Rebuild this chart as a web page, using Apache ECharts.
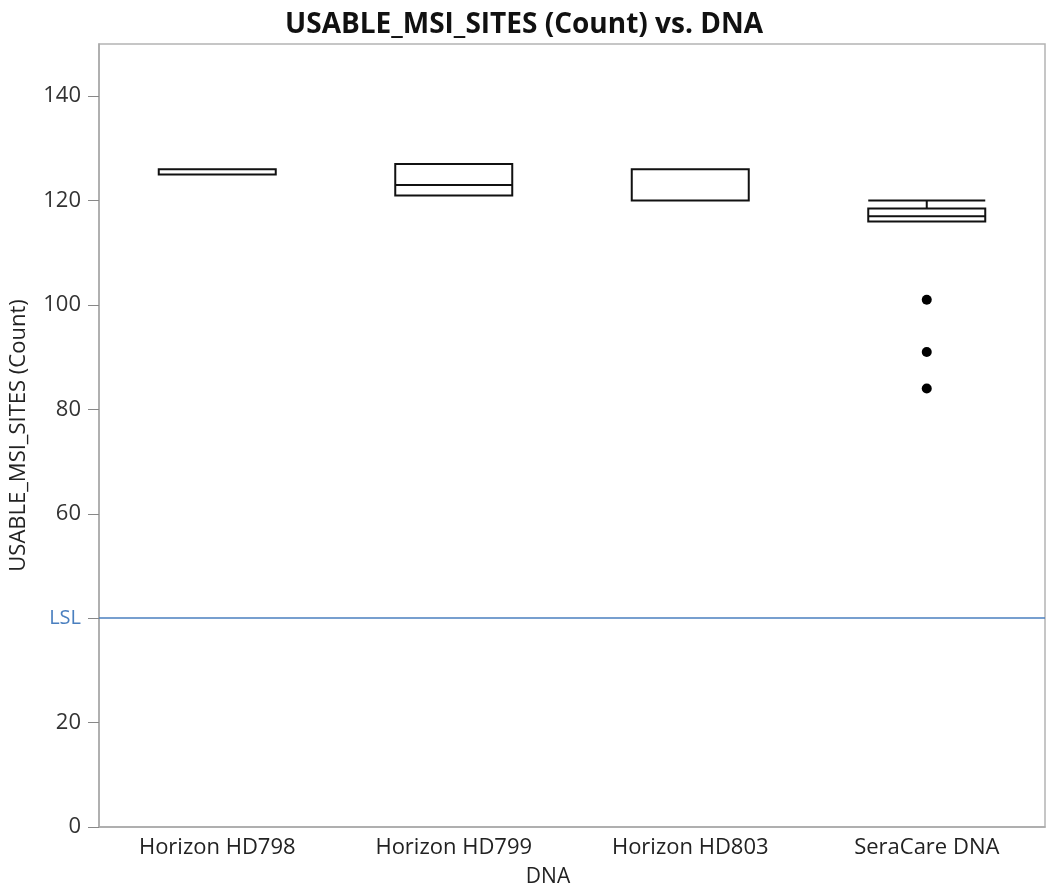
<!DOCTYPE html>
<html>
<head>
<meta charset="utf-8">
<title>USABLE_MSI_SITES (Count) vs. DNA</title>
<script src="https://cdn.jsdelivr.net/npm/echarts@6/dist/echarts.min.js"></script>
<style>
  html, body { margin: 0; padding: 0; background: #fff; }
  #chart { width: 1048px; height: 893px; }
</style>
</head>
<body>
<div id="chart"></div>
<script>
// DNA sample groups on the x axis
const categories = ['Horizon HD798', 'Horizon HD799', 'Horizon HD803', 'SeraCare DNA'];
// Box statistics per group: [lower whisker, Q1, median, Q3, upper whisker]
const boxStats = [
  [125, 125, 126, 126, 126],
  [121, 121, 123, 127, 127],
  [120, 120, 120, 126, 126],
  [116, 116, 117, 118.5, 120]
];
// Points outside the whiskers: [category index, value]
const outliers = [
  [3, 101],
  [3, 91],
  [3, 84]
];
// Lower specification limit
const lslValue = 40;
const lslLabel = 'LSL';
// Y axis tick values
const yTicks = [0, 20, 40, 60, 80, 100, 120, 140];

const fontFamily = '"Open Sans", "Noto Sans", sans-serif';
const lslColor = '#4a7fbf';

const chart = echarts.init(document.getElementById('chart'), null, { renderer: 'canvas' });

chart.setOption({
  animation: false,
  backgroundColor: '#ffffff',
  title: {
    text: 'USABLE_MSI_SITES (Count) vs. DNA',
    left: 'center',
    top: 6,
    padding: [5, 28, 5, 0],
    textStyle: {
      fontFamily: fontFamily,
      fontWeight: 'bold',
      fontSize: 28,
      color: '#111'
    }
  },
  grid: {
    left: 99,
    right: 3,
    top: 44,
    bottom: 60,
    show: true,
    borderColor: '#b4b4b4',
    borderWidth: 1.5,
    containLabel: false
  },
  xAxis: {
    type: 'category',
    data: categories,
    boundaryGap: true,
    name: 'DNA',
    nameLocation: 'middle',
    nameGap: 40,
    nameTextStyle: {
      fontFamily: fontFamily,
      fontSize: 21,
      color: '#222',
      padding: [0, 48, 0, 0]
    },
    axisLine: { show: true, lineStyle: { color: '#a8a8a8', width: 1.5 } },
    axisTick: { show: false },
    axisLabel: {
      fontFamily: fontFamily,
      fontSize: 22,
      color: '#222',
      margin: 10
    },
    splitLine: { show: false }
  },
  yAxis: {
    type: 'value',
    min: 0,
    max: 150,
    interval: 20,
    name: 'USABLE_MSI_SITES (Count)',
    nameLocation: 'middle',
    nameGap: 69,
    nameTextStyle: { fontFamily: fontFamily, fontSize: 22, color: '#222' },
    axisLine: { show: true, lineStyle: { color: '#a8a8a8', width: 1.5 } },
    axisTick: {
      show: true,
      length: 11,
      customValues: yTicks,
      lineStyle: { color: '#888', width: 1 }
    },
    axisLabel: {
      customValues: yTicks,
      fontFamily: fontFamily,
      fontSize: 22,
      color: '#333',
      margin: 18,
      formatter: function (v) {
        return v === lslValue ? '{lsl|' + lslLabel + '}' : String(v);
      },
      rich: {
        lsl: { fontFamily: fontFamily, fontSize: 20, color: lslColor }
      }
    },
    splitLine: { show: false }
  },
  series: [
    {
      name: 'box',
      type: 'boxplot',
      data: boxStats,
      boxWidth: [117, 117],
      itemStyle: {
        color: 'rgba(255,255,255,0)',
        borderColor: '#111',
        borderWidth: 2
      },
      emphasis: { disabled: true },
      markLine: {
        silent: true,
        symbol: ['none', 'none'],
        label: { show: false },
        lineStyle: { color: lslColor, width: 1.5, type: 'solid' },
        data: [{ yAxis: lslValue }]
      },
      z: 3
    },
    {
      name: 'outliers',
      type: 'scatter',
      data: outliers,
      symbol: 'circle',
      symbolSize: 10,
      itemStyle: { color: '#000', opacity: 1 },
      emphasis: { disabled: true },
      z: 4
    }
  ]
});
</script>
</body>
</html>
